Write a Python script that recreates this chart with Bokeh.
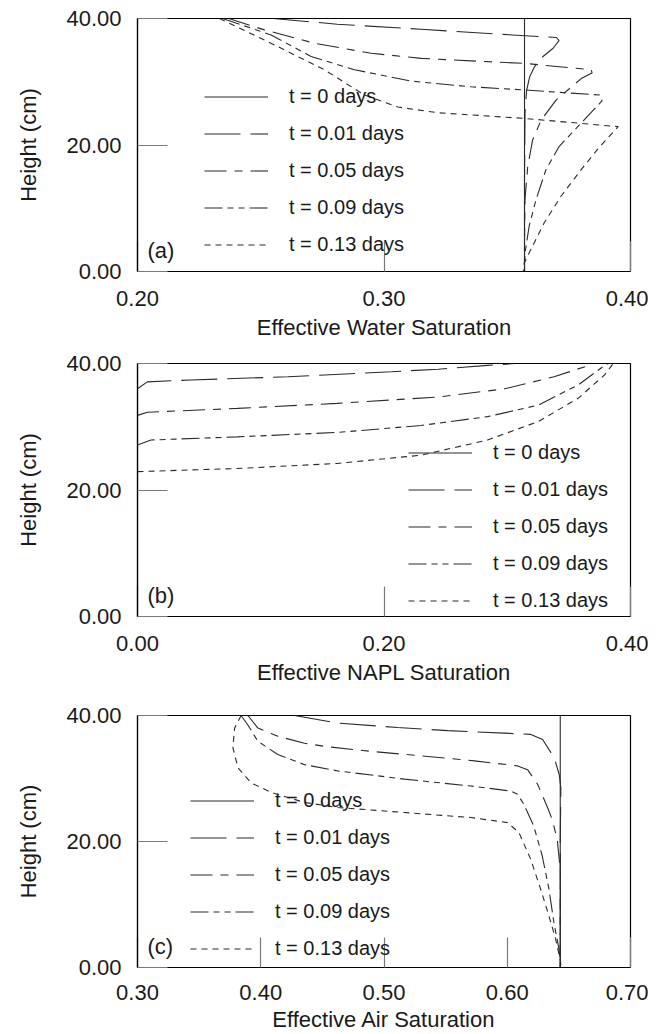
from bokeh.plotting import figure
from bokeh.layouts import column
from bokeh.models import (Range1d, FixedTicker, NumeralTickFormatter, Legend,
                          LegendItem, Label)
from bokeh.embed import file_html
from bokeh.resources import INLINE

FONT = "Liberation Sans"

series_labels = ["t = 0 days", "t = 0.01 days", "t = 0.05 days",
                 "t = 0.09 days", "t = 0.13 days"]

# ---------------- (a) Effective water saturation ----------------
water_t0_x = [0.357, 0.357]
water_t0_h = [0.0, 40.0]
water_t001_x = [0.255, 0.281, 0.315, 0.352, 0.370, 0.371, 0.3686, 0.3645,
                0.3611, 0.3591, 0.3578, 0.3572, 0.357, 0.357]
water_t001_h = [40.0, 39.1, 38.3, 37.4, 37.0, 36.5, 35.3, 34.0,
                32.4, 30.8, 28.5, 25.0, 15.0, 0.0]
water_t005_x = [0.237, 0.2515, 0.2717, 0.2948, 0.3151, 0.3354, 0.357, 0.3841,
                0.3844, 0.380, 0.3698, 0.3637, 0.3603, 0.3583, 0.3572, 0.357, 0.357]
water_t005_h = [40.0, 38.2, 36.1, 34.5, 33.7, 33.3, 32.9, 31.9,
                31.4, 30.5, 27.1, 23.9, 20.8, 16.6, 11.4, 5.0, 0.0]
water_t009_x = [0.2345, 0.2542, 0.2704, 0.288, 0.311, 0.3354, 0.357, 0.3875,
                0.3885, 0.3786, 0.3711, 0.3657, 0.3617, 0.3589, 0.3572, 0.357]
water_t009_h = [40.0, 37.4, 34.0, 31.9, 30.1, 29.2, 28.7, 27.9,
                27.0, 22.9, 19.8, 16.1, 11.4, 7.2, 2.9, 0.0]
water_t013_x = [0.2332, 0.2541, 0.2758, 0.2921, 0.3056, 0.3219, 0.357, 0.395,
                0.387, 0.380, 0.3718, 0.365, 0.3596, 0.3569, 0.3565]
water_t013_h = [40.0, 36.1, 31.9, 27.9, 26.0, 25.1, 24.2, 22.9,
                19.5, 16.1, 11.9, 7.7, 3.5, 1.4, 0.0]

# ---------------- (b) Effective NAPL saturation ----------------
napl_t0_x = [0.0, 0.0]
napl_t0_h = [0.0, 40.0]
napl_t001_x = [0.0, 0.008, 0.043, 0.122, 0.206, 0.244, 0.284, 0.306]
napl_t001_h = [36.0, 37.1, 37.4, 37.9, 38.7, 39.1, 39.7, 40.0]
napl_t005_x = [0.0, 0.008, 0.081, 0.162, 0.244, 0.298, 0.338, 0.363, 0.369]
napl_t005_h = [31.8, 32.3, 32.9, 33.7, 34.7, 36.0, 37.9, 39.5, 40.0]
napl_t009_x = [0.0, 0.011, 0.081, 0.162, 0.230, 0.284, 0.325, 0.3575, 0.379, 0.382]
napl_t009_h = [27.1, 27.9, 28.4, 29.1, 30.2, 31.6, 33.4, 36.6, 39.7, 40.0]
napl_t013_x = [0.0, 0.081, 0.162, 0.230, 0.284, 0.325, 0.3575, 0.379, 0.386]
napl_t013_h = [22.9, 23.4, 24.2, 25.5, 27.9, 30.8, 34.5, 38.2, 40.0]

# ---------------- (c) Effective air saturation ----------------
air_t0_x = [0.643, 0.643]
air_t0_h = [0.0, 40.0]
air_t001_x = [0.4274, 0.4625, 0.5111, 0.5517, 0.5976, 0.6192, 0.6287, 0.6381,
              0.6422, 0.6435, 0.643, 0.643]
air_t001_h = [40.0, 38.8, 38.1, 37.6, 37.2, 37.0, 36.2, 33.3,
              30.6, 28.5, 20.0, 0.0]
air_t005_x = [0.3896, 0.3977, 0.4139, 0.4355, 0.4517, 0.4895, 0.5355, 0.5733,
              0.6084, 0.6165, 0.6246, 0.6327, 0.6365, 0.6406, 0.6432, 0.643, 0.643]
air_t005_h = [40.0, 38.0, 36.7, 35.6, 35.1, 34.3, 33.5, 32.8,
              32.0, 31.4, 29.1, 25.4, 23.5, 20.3, 15.1, 8.0, 0.0]
air_t009_x = [0.384, 0.3896, 0.3977, 0.4139, 0.4355, 0.4625, 0.5166, 0.5706,
              0.603, 0.6084, 0.6135, 0.6216, 0.6284, 0.6338, 0.6378, 0.6419,
              0.6433, 0.643]
air_t009_h = [40.0, 38.5, 35.9, 33.8, 32.2, 31.2, 29.9, 28.8,
              28.0, 27.5, 25.9, 22.4, 17.7, 12.5, 7.2, 3.0, 0.4, 0.0]
air_t013_x = [0.3841, 0.3788, 0.3774, 0.3815, 0.3922, 0.4085, 0.4355, 0.4625,
              0.5166, 0.5706, 0.6003, 0.6095, 0.619, 0.627, 0.6338, 0.6392,
              0.6433, 0.6435]
air_t013_h = [40.0, 38.0, 34.9, 31.7, 29.3, 27.8, 26.2, 25.4,
              24.6, 23.8, 23.0, 21.4, 17.2, 12.5, 8.2, 4.6, 0.9, 0.0]

y_ticks = [0, 20, 40]
water_ticks = [0.2, 0.3, 0.4]
napl_ticks = [0.0, 0.2, 0.4]
air_ticks = [0.3, 0.4, 0.5, 0.6, 0.7]

DASHES = ["solid", "36 10", "22 8 8 8", "18 5 6 5 6 5", "6 5"]
LINE_COLOR = "#2a2a2a"
TEXT_COLOR = "#1a1a1a"


def make_panel(series, x_range, x_ticks, x_title, tag, legend_xy,
               top, bottom, tick_standoff, title_standoff):
    p = figure(width=648, height=top + 254 + bottom,
               x_range=Range1d(*x_range), y_range=Range1d(0, 40),
               output_backend="svg", toolbar_location=None,
               min_border_left=137, min_border_right=18,
               min_border_top=top, min_border_bottom=bottom)
    p.xgrid.visible = False
    p.ygrid.visible = False
    p.outline_line_color = "black"
    p.outline_line_width = 1.2
    p.background_fill_color = "white"

    items = []
    for (xs, hs), lab, dash in zip(series, series_labels, DASHES):
        r = p.line(xs, hs, line_color=LINE_COLOR, line_width=1.1, line_dash=dash)
        items.append(LegendItem(label=lab, renderers=[r]))

    for ax in (p.xaxis[0], p.yaxis[0]):
        ax.major_tick_in = 30
        ax.major_tick_out = 0
        ax.minor_tick_line_color = None
        ax.major_tick_line_color = "#7a7a7a"
        ax.major_tick_line_width = 1.2
        ax.axis_line_color = "black"
        ax.axis_line_width = 1.2
        ax.major_label_text_font = FONT
        ax.major_label_text_font_size = "22px"
        ax.major_label_text_color = TEXT_COLOR
        ax.axis_label_text_font = FONT
        ax.axis_label_text_font_size = "22px"
        ax.axis_label_text_font_style = "normal"
        ax.axis_label_text_color = TEXT_COLOR
        ax.formatter = NumeralTickFormatter(format="0.00")

    p.xaxis.ticker = FixedTicker(ticks=x_ticks)
    p.yaxis.ticker = FixedTicker(ticks=y_ticks)
    p.xaxis.axis_label = x_title
    p.yaxis.axis_label = "Height (cm)"
    p.xaxis.major_label_standoff = tick_standoff
    p.xaxis.axis_label_standoff = title_standoff
    p.yaxis.major_label_standoff = 16
    p.yaxis.axis_label_standoff = 22

    legend = Legend(items=items, location=legend_xy,
                    glyph_width=64, glyph_height=23, label_height=23,
                    spacing=14, label_standoff=21, padding=0, margin=0,
                    border_line_color=None, background_fill_alpha=0,
                    label_text_font=FONT, label_text_font_size="20px",
                    label_text_color=TEXT_COLOR)
    p.add_layout(legend)

    p.add_layout(Label(x=10, y=21, x_units="screen", y_units="screen",
                       text=tag, text_font=FONT, text_font_size="22px",
                       text_color=TEXT_COLOR, text_baseline="middle"))
    return p


pa = make_panel([(water_t0_x, water_t0_h), (water_t001_x, water_t001_h),
                 (water_t005_x, water_t005_h), (water_t009_x, water_t009_h),
                 (water_t013_x, water_t013_h)],
                (0.2, 0.4), water_ticks, "Effective Water Saturation", "(a)",
                (67, 15.5), 18, 70, 19, 6)
pb = make_panel([(napl_t0_x, napl_t0_h), (napl_t001_x, napl_t001_h),
                 (napl_t005_x, napl_t005_h), (napl_t009_x, napl_t009_h),
                 (napl_t013_x, napl_t013_h)],
                (0.0, 0.4), napl_ticks, "Effective NAPL Saturation", "(b)",
                (271, 4.5), 21, 70, 19, 6)
pc = make_panel([(air_t0_x, air_t0_h), (air_t001_x, air_t001_h),
                 (air_t005_x, air_t005_h), (air_t009_x, air_t009_h),
                 (air_t013_x, air_t013_h)],
                (0.3, 0.7), air_ticks, "Effective Air Saturation", "(c)",
                (53, 7.5), 28, 65, 17, 4)

layout = column(pa, pb, pc, spacing=0)

open("out.html", "w").write(file_html(layout, INLINE))
